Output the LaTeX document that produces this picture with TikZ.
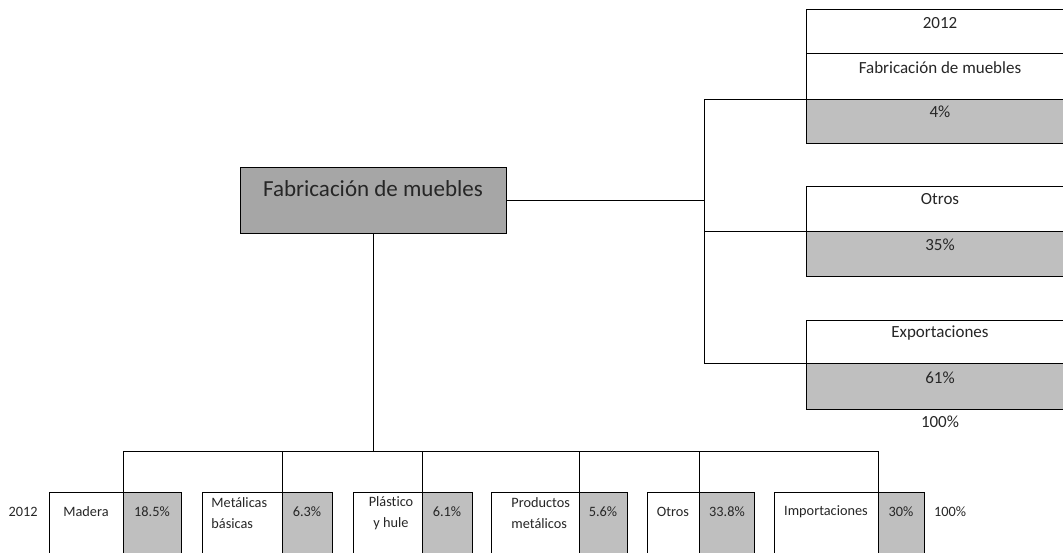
\documentclass[tikz,border=0pt]{standalone}
\usepackage{fontspec}
\setmainfont{Carlito}[Ligatures={NoCommon,NoRare}]
\definecolor{lightg}{HTML}{BFBFBF}
\definecolor{darkg}{HTML}{A6A6A6}
\definecolor{txt}{HTML}{262626}
\begin{document}
\begin{tikzpicture}[x=1pt,y=-1pt,line width=0.95pt,
  box/.style={draw=black,rectangle,inner sep=0pt,anchor=north west,minimum width=#1},
  wcell/.style={box=#1,fill=white,minimum height=80pt},
  gcell/.style={box=#1,fill=lightg,minimum height=80pt},
  btxt/.style={font=\fontsize{14.3}{21}\selectfont,text=txt,inner sep=0pt},
  rtxt/.style={font=\fontsize{17}{20}\selectfont,text=txt,inner sep=0pt},
  mtxt/.style={font=\fontsize{23}{26}\selectfont,text=txt,inner sep=0pt}]
\useasboundingbox (0,0) rectangle (1063,553);
\clip (0,0) rectangle (1063,553);

% main box
\node[box=266pt,minimum height=66pt,fill=darkg] (main) at (240,167) {};
\node[mtxt] (maint) at (373,189) {Fabricación de muebles};

% right boxes
\node[box=269pt,minimum height=44pt,fill=white] (r1a) at (806,9) {};
\node[box=269pt,minimum height=46pt,fill=white] (r1b) at (806,53) {};
\node[box=269pt,minimum height=44pt,fill=lightg] (r1c) at (806,99) {};
\node[box=269pt,minimum height=45pt,fill=white] (r2a) at (806,186) {};
\node[box=269pt,minimum height=45pt,fill=lightg] (r2b) at (806,231) {};
\node[box=269pt,minimum height=43pt,fill=white] (r3a) at (806,320) {};
\node[box=269pt,minimum height=46pt,fill=lightg] (r3b) at (806,363) {};
\node[rtxt] (t1a) at (940,23) {2012};
\node[rtxt] (t1b) at (940,68) {Fabricación de muebles};
\node[rtxt] (t1c) at (940,112) {4\%};
\node[rtxt] (t2a) at (940,199) {Otros};
\node[rtxt] (t2b) at (940,245) {35\%};
\node[rtxt] (t3a) at (940,333) {Exportaciones};
\node[rtxt] (t3b) at (940,378) {61\%};
\node[rtxt] (t100r) at (940,422) {100\%};

% right connectors
\coordinate (tr) at (704,0);
\draw (main.east) -- (main.east -| tr);
\draw (r1c.north west) -- (r1c.north west -| tr) -- (r3b.north west -| tr) -- (r3b.north west);
\draw (r2b.north west -| tr) -- (r2b.north west);

% bottom cells
\node[wcell=74pt] (mad) at (49,492) {};
\node[gcell=58pt] (madp) at (123,492) {};
\node[wcell=80pt] (met) at (202,492) {};
\node[gcell=50pt] (metp) at (282,492) {};
\node[wcell=69pt] (pla) at (353,492) {};
\node[gcell=50pt] (plap) at (422,492) {};
\node[wcell=88pt] (pro) at (491,492) {};
\node[gcell=48pt] (prop) at (579,492) {};
\node[wcell=52pt] (otr) at (647,492) {};
\node[gcell=55pt] (otrp) at (699,492) {};
\node[wcell=104pt] (imp) at (774,492) {};
\node[gcell=46pt] (impp) at (878,492) {};

\node[btxt] (y2012) at (23,512) {2012};
\node[btxt] (tmad) at (86,512) {Madera};
\node[btxt] (tmadp) at (152,512) {18.5\%};
\node[btxt,align=left,anchor=west] (tmet) at (211,513) {Metálicas\\básicas};
\node[btxt] (tmetp) at (307,512) {6.3\%};
\node[btxt,align=center] (tpla) at (391,513) {Plástico\\y hule};
\node[btxt] (tplap) at (447,512) {6.1\%};
\node[btxt,align=left,anchor=west] (tpro) at (511,513) {Productos\\metálicos};
\node[btxt] (tprop) at (603,512) {5.6\%};
\node[btxt] (totr) at (673,512) {Otros};
\node[btxt] (totrp) at (727,512) {33.8\%};
\node[btxt] (timp) at (826,512) {Importaciones};
\node[btxt] (timpp) at (901,512) {30\%};
\node[btxt] (t100b) at (950,512) {100\%};

% bottom connectors
\coordinate (bus) at (373,451);
\draw (main.south) -- (main.south |- bus);
\draw (madp.north west |- bus) -- (impp.north west |- bus);
\foreach \c in {madp,metp,plap,prop,otrp,impp}
  \draw (\c.north west |- bus) -- (\c.north west);
\end{tikzpicture}
\end{document}
